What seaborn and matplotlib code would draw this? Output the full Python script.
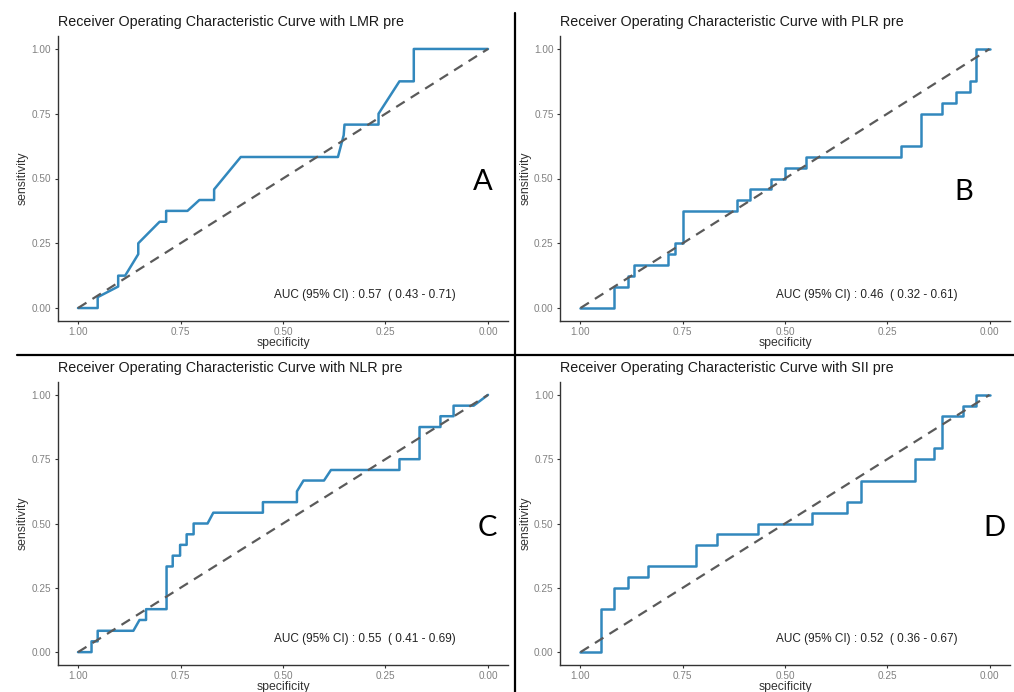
import numpy as np
import pandas as pd
import matplotlib
matplotlib.use("Agg")
import matplotlib.pyplot as plt
from matplotlib.lines import Line2D
import seaborn as sns

# ROC curve vertices (specificity, sensitivity)
lmr_spec = [1.0, 0.952, 0.952, 0.902, 0.902, 0.885, 0.853, 0.853, 0.801, 0.785, 0.785, 0.733, 0.704,
            0.668, 0.668, 0.603, 0.366, 0.352, 0.350, 0.267, 0.267, 0.216, 0.181, 0.181, 0.0]
lmr_sens = [0.0, 0.0, 0.042, 0.083, 0.125, 0.125, 0.208, 0.25, 0.333, 0.333, 0.375, 0.375, 0.417,
            0.417, 0.458, 0.583, 0.583, 0.667, 0.708, 0.708, 0.75, 0.875, 0.875, 1.0, 1.0]

plr_spec = [1.0, 0.918, 0.918, 0.885, 0.885, 0.869, 0.869, 0.785, 0.785, 0.769, 0.769, 0.75, 0.75,
            0.617, 0.617, 0.585, 0.585, 0.534, 0.534, 0.5, 0.5, 0.449, 0.449, 0.216, 0.216, 0.167,
            0.167, 0.117, 0.117, 0.082, 0.082, 0.049, 0.049, 0.033, 0.033, 0.0]
plr_sens = [0.0, 0.0, 0.083, 0.083, 0.125, 0.125, 0.167, 0.167, 0.208, 0.208, 0.25, 0.25, 0.375,
            0.375, 0.417, 0.417, 0.458, 0.458, 0.5, 0.5, 0.542, 0.542, 0.583, 0.583, 0.625, 0.625,
            0.75, 0.75, 0.792, 0.792, 0.833, 0.833, 0.875, 0.875, 1.0, 1.0]

nlr_spec = [1.0, 0.967, 0.967, 0.952, 0.952, 0.865, 0.850, 0.834, 0.834, 0.784, 0.784, 0.769, 0.769,
            0.751, 0.751, 0.735, 0.735, 0.718, 0.718, 0.684, 0.670, 0.549, 0.549, 0.466, 0.466, 0.450,
            0.400, 0.383, 0.216, 0.216, 0.167, 0.167, 0.116, 0.116, 0.084, 0.084, 0.035, 0.0]
nlr_sens = [0.0, 0.0, 0.042, 0.042, 0.083, 0.083, 0.125, 0.125, 0.167, 0.167, 0.333, 0.333, 0.375,
            0.375, 0.417, 0.417, 0.458, 0.458, 0.5, 0.5, 0.542, 0.542, 0.583, 0.583, 0.625, 0.667,
            0.667, 0.708, 0.708, 0.75, 0.75, 0.875, 0.875, 0.917, 0.917, 0.958, 0.958, 1.0]

sii_spec = [1.0, 0.95, 0.95, 0.918, 0.918, 0.885, 0.885, 0.834, 0.834, 0.718, 0.718, 0.667, 0.667,
            0.567, 0.567, 0.435, 0.435, 0.349, 0.349, 0.315, 0.315, 0.183, 0.183, 0.135, 0.135,
            0.117, 0.117, 0.065, 0.065, 0.033, 0.033, 0.0]
sii_sens = [0.0, 0.0, 0.167, 0.167, 0.25, 0.25, 0.292, 0.292, 0.333, 0.333, 0.417, 0.417, 0.458,
            0.458, 0.5, 0.5, 0.542, 0.542, 0.583, 0.583, 0.667, 0.667, 0.75, 0.75, 0.792, 0.792,
            0.917, 0.917, 0.958, 0.958, 1.0, 1.0]

markers = ["LMR", "PLR", "NLR", "SII"]
auc_labels = ["AUC (95% CI) : 0.57  ( 0.43 - 0.71)",
              "AUC (95% CI) : 0.46  ( 0.32 - 0.61)",
              "AUC (95% CI) : 0.55  ( 0.41 - 0.69)",
              "AUC (95% CI) : 0.52  ( 0.36 - 0.67)"]
letters = ["A", "B", "C", "D"]
ticks = [1.00, 0.75, 0.50, 0.25, 0.00]
tick_labels = ["1.00", "0.75", "0.50", "0.25", "0.00"]
chance_x = [1.0, 0.0]
chance_y = [0.0, 1.0]

sns.set_style("white")
plt.rcParams['font.family'] = ['Liberation Sans', 'DejaVu Sans']

W, H = 1014, 692
fig = plt.figure(figsize=(W / 100, H / 100), dpi=100)

# axes boxes in pixels: left, top, right, bottom
boxes = [(57.5, 36, 508.5, 321), (560, 36, 1010, 321),
         (57.5, 382, 508.5, 665), (560, 382, 1010, 665)]
letter_pos = [(483, 182), (964, 192), (487, 528), (994, 528)]
curves = [(lmr_spec, lmr_sens), (plr_spec, plr_sens), (nlr_spec, nlr_sens), (sii_spec, sii_sens)]

for i, (l, t, r, b) in enumerate(boxes):
    ax = fig.add_axes([l / W, 1 - b / H, (r - l) / W, (b - t) / H])
    df = pd.DataFrame({"specificity": curves[i][0], "sensitivity": curves[i][1]})
    sns.lineplot(data=df, x="specificity", y="sensitivity", sort=False, estimator=None,
                 color="#3288bd", linewidth=1.8, ax=ax)
    ax.plot(chance_x, chance_y, color="#5a5a5a", linewidth=1.6, dashes=(4.5, 3.2))
    ax.set_xlim(1.05, -0.05)
    ax.set_ylim(-0.05, 1.05)
    ax.set_xticks(ticks)
    ax.set_xticklabels(tick_labels)
    ax.set_yticks(ticks[::-1])
    ax.set_yticklabels(tick_labels[::-1])
    for side in ["top", "right"]:
        ax.spines[side].set_visible(False)
    for side in ["left", "bottom"]:
        ax.spines[side].set_color("#333333")
        ax.spines[side].set_linewidth(1.0)
    ax.tick_params(axis="both", which="major", length=2.5, width=0.8, color="#333333",
                   labelsize=7.2, labelcolor="#808080", pad=2, bottom=True, left=True)
    ax.set_xlabel("specificity", fontsize=8.8, color="#333333", labelpad=0)
    ax.set_ylabel("sensitivity", fontsize=8.8, color="#333333", labelpad=2)
    ax.set_title("Receiver Operating Characteristic Curve with " + markers[i] + " pre",
                 loc="left", fontsize=10.3, color="#1a1a1a", pad=7)
    ax.text(0.30, 0.05, auc_labels[i], ha="center", va="center", fontsize=8.5, color="#222222")
    lx, ly = letter_pos[i]
    fig.text(lx / W, 1 - ly / H, letters[i], ha="center", va="center",
             fontsize=21, color="black", family=["Lato", "DejaVu Sans"])

# panel dividers
fig.add_artist(Line2D([515 / W, 515 / W], [0, 1 - 13 / H], color="black", linewidth=1.6))
fig.add_artist(Line2D([17 / W, 1], [1 - 355 / H, 1 - 355 / H], color="black", linewidth=1.6))

fig.savefig("out.png", dpi=100)
